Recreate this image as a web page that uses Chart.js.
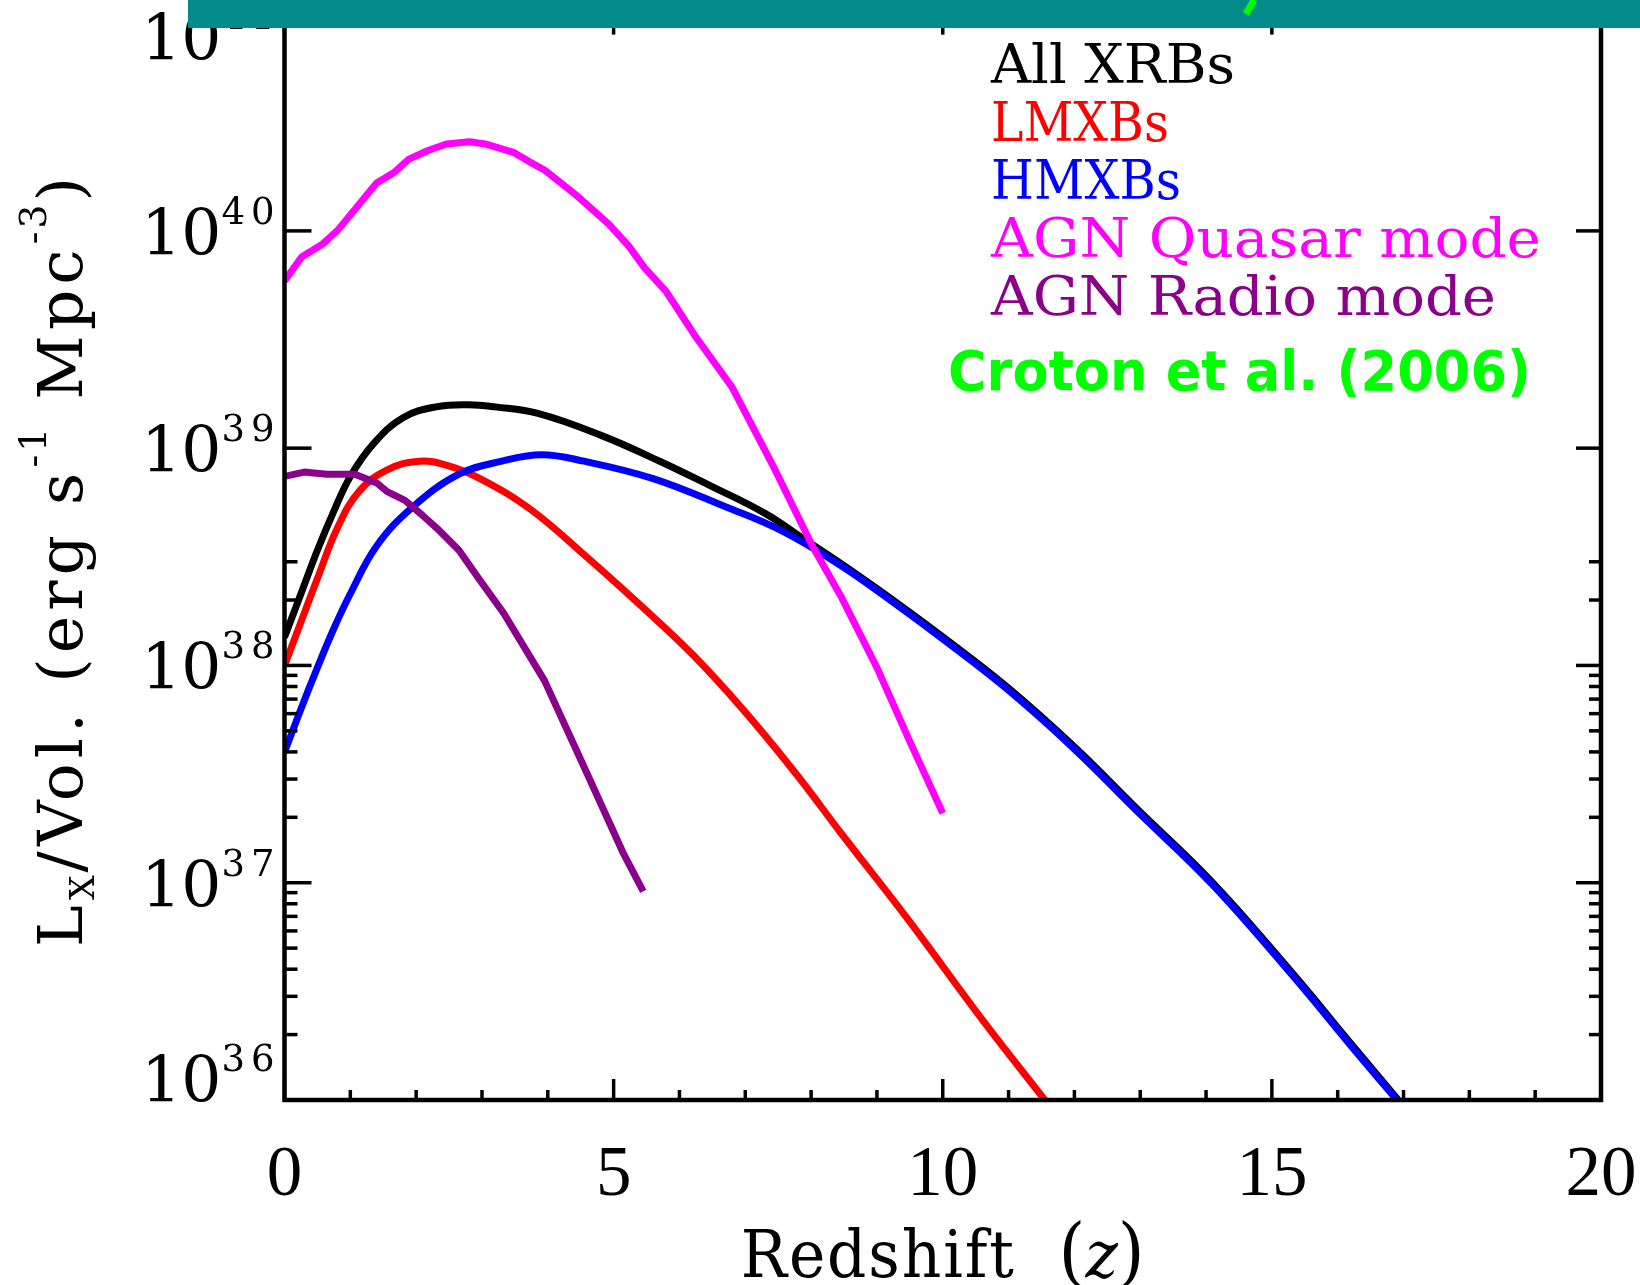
<!DOCTYPE html>
<html>
<head>
<meta charset="utf-8">
<script src="https://cdn.jsdelivr.net/npm/chart.js@4.4.1/dist/chart.umd.min.js"></script>
<style>
  html, body { margin: 0; padding: 0; background: #fff; }
  canvas { display: block; }
</style>
</head>
<body>
<canvas id="lxChart" width="1640" height="1285"></canvas>
<script>
// redshift and log10(Lx/Vol), one pair of arrays per curve
const allZ   = [0, 0.25, 0.5, 0.75, 1.0, 1.35, 1.8, 2.3, 2.8, 3.2, 3.85, 4.8, 5.7, 6.45, 7.3, 7.9, 8.45, 9.25, 10.05, 11.0, 12.0, 12.95, 14.1, 15.35, 16.2, 16.92];
const allLog = [38.13, 38.33, 38.53, 38.71, 38.87, 39.02, 39.14, 39.19, 39.20, 39.19, 39.16, 39.06, 38.94, 38.83, 38.70, 38.58, 38.47, 38.30, 38.12, 37.895, 37.625, 37.34, 37.0, 36.57, 36.26, 36.0];

const lmxbZ   = [0, 0.25, 0.5, 0.8, 1.13, 1.56, 2.05, 2.48, 2.97, 3.73, 4.55, 5.36, 6.2, 7.0, 7.8, 8.45, 9.5, 10.6, 11.55];
const lmxbLog = [38.0, 38.2, 38.4, 38.63, 38.8, 38.9, 38.94, 38.92, 38.86, 38.72, 38.51, 38.29, 38.05, 37.785, 37.49, 37.23, 36.82, 36.37, 36.0];

const hmxbZ   = [0, 0.25, 0.5, 0.75, 1.0, 1.4, 1.95, 2.65, 3.3, 3.9, 4.55, 5.6, 6.7, 7.55, 8.45, 9.25, 10.05, 11.0, 12.0, 12.95, 14.1, 15.35, 16.2, 16.9];
const hmxbLog = [37.60, 37.80, 37.99, 38.17, 38.33, 38.55, 38.73, 38.88, 38.94, 38.97, 38.94, 38.86, 38.73, 38.62, 38.46, 38.29, 38.11, 37.885, 37.615, 37.33, 36.99, 36.56, 36.25, 36.0];

const quasarZ   = [0, 0.26, 0.58, 0.8, 1.1, 1.4, 1.67, 1.89, 2.18, 2.46, 2.81, 3.05, 3.49, 3.71, 3.95, 4.41, 4.93, 5.23, 5.47, 5.8, 6.23, 6.8, 7.42, 8.02, 8.45, 9.0, 9.53, 10.0];
const quasarLog = [39.77, 39.88, 39.94, 40.00, 40.11, 40.22, 40.27, 40.33, 40.37, 40.40, 40.41, 40.40, 40.36, 40.32, 40.28, 40.17, 40.03, 39.93, 39.83, 39.72, 39.52, 39.28, 38.92, 38.55, 38.32, 37.99, 37.63, 37.32];

const radioZ   = [0, 0.3, 0.64, 1.07, 1.4, 1.56, 1.83, 2.1, 2.32, 2.65, 2.95, 3.33, 3.95, 4.6, 5.14, 5.45];
const radioLog = [38.87, 38.89, 38.88, 38.88, 38.84, 38.80, 38.76, 38.69, 38.63, 38.53, 38.40, 38.24, 37.93, 37.50, 37.14, 36.96];

// axis ticks
const xMajorTicks = [0, 5, 10, 15, 20];
const xMinorTicks = [1, 2, 3, 4, 6, 7, 8, 9, 11, 12, 13, 14, 16, 17, 18, 19];
const yDecades = [36, 37, 38, 39, 40, 41];
const yMinorTicks = [2e36, 3e36, 4e36, 5e36, 6e36, 7e36, 8e36, 9e36,
                     2e37, 3e37, 4e37, 5e37, 6e37, 7e37, 8e37, 9e37,
                     2e38, 3e38];

const legendOrder = ['All XRBs', 'LMXBs', 'HMXBs', 'AGN Quasar mode', 'AGN Radio mode'];
const sourceNote = 'Croton et al. (2006)';

function pts(zs, logs) {
  return zs.map((z, i) => ({ x: z, y: Math.pow(10, logs[i]) }));
}

// draws a run of text pieces (sub/superscripts), optionally squeezed to a width
function textRun(ctx, parts, x, y, align, width) {
  ctx.save();
  let total = 0;
  const ws = parts.map(p => {
    ctx.font = p.font;
    ctx.letterSpacing = (p.ls || 0) + 'px';
    const w = ctx.measureText(p.t).width;
    total += w;
    return w;
  });
  const sx = width ? width / total : 1;
  const tw = total * sx;
  const x0 = align === 'center' ? x - tw / 2 : align === 'right' ? x - tw : x;
  ctx.translate(x0, y);
  ctx.scale(sx, 1);
  ctx.textAlign = 'left';
  ctx.textBaseline = 'alphabetic';
  let cx = 0;
  parts.forEach((p, i) => {
    ctx.font = p.font;
    ctx.letterSpacing = (p.ls || 0) + 'px';
    ctx.fillStyle = p.color || '#000';
    ctx.fillText(p.t, cx, p.dy || 0);
    cx += ws[i];
  });
  ctx.restore();
}

const SERIF = '"DejaVu Serif", serif';

const framePlugin = {
  id: 'frame',
  afterDraw(chart) {
    const ctx = chart.ctx, a = chart.chartArea;
    const xs = chart.scales.x, ys = chart.scales.y;
    ctx.save();
    ctx.strokeStyle = '#000';
    ctx.lineCap = 'butt';
    const line = (x1, y1, x2, y2) => { ctx.beginPath(); ctx.moveTo(x1, y1); ctx.lineTo(x2, y2); ctx.stroke(); };

    ctx.lineWidth = 3.5;
    xMajorTicks.forEach(v => {
      const p = xs.getPixelForValue(v);
      line(p, a.bottom, p, a.bottom - 21);
      line(p, a.top, p, a.top + 21);
    });
    xMinorTicks.forEach(v => {
      const p = xs.getPixelForValue(v);
      line(p, a.bottom, p, a.bottom - 10);
      line(p, a.top, p, a.top + 10);
    });
    yDecades.forEach(d => {
      const p = ys.getPixelForValue(Math.pow(10, d));
      line(a.left, p, a.left + 27, p);
      line(a.right, p, a.right - 25, p);
    });
    yMinorTicks.forEach(v => {
      const p = ys.getPixelForValue(v);
      line(a.left, p, a.left + 13, p);
      line(a.right, p, a.right - 12, p);
    });
    ctx.lineWidth = 4.5;
    ctx.strokeRect(a.left, a.top, a.right - a.left, a.bottom - a.top);

    // y tick labels 10^n, end labels kept inside the box like IDL does
    yDecades.forEach(d => {
      const p = ys.getPixelForValue(Math.pow(10, d));
      const c = Math.min(Math.max(p, a.top + 22), a.bottom - 22);
      textRun(ctx, [
        { t: '10', font: '63px ' + SERIF },
        { t: String(d), font: '37px ' + SERIF, dy: -31, ls: 6 }
      ], a.left - 4, c + 24, 'right');
    });

    // x tick labels
    ctx.fillStyle = '#000';
    ctx.font = '71px "Liberation Serif", serif';
    ctx.textAlign = 'center';
    ctx.textBaseline = 'alphabetic';
    xMajorTicks.forEach(v => {
      ctx.fillText(String(v), xs.getPixelForValue(v), a.bottom + 95);
    });

    // x title
    textRun(ctx, [
      { t: 'Redshift  ', font: '66px ' + SERIF, ls: 2 },
      { t: '(', font: '74px ' + SERIF },
      { t: 'z', font: 'italic 66px ' + SERIF },
      { t: ')', font: '74px ' + SERIF }
    ], (a.left + a.right) / 2, a.bottom + 177, 'center', 404);

    // y title
    ctx.save();
    ctx.translate(82, 562);
    ctx.rotate(-Math.PI / 2);
    textRun(ctx, [
      { t: 'L', font: '62px ' + SERIF, ls: 5 },
      { t: 'X', font: '34px ' + SERIF, dy: 12, ls: 3 },
      { t: '/Vol. (erg s', font: '62px ' + SERIF, ls: 5 },
      { t: '-1', font: '37px ' + SERIF, dy: -36, ls: 3 },
      { t: ' Mpc', font: '62px ' + SERIF, ls: 5 },
      { t: '-3', font: '37px ' + SERIF, dy: -36, ls: 3 },
      { t: ')', font: '62px ' + SERIF }
    ], 0, 0, 'center', 770);
    ctx.restore();

    // legend, coloured text only
    const legendWidths = [244, 178, 190, 550, 505];
    legendOrder.forEach((name, i) => {
      const ds = chart.data.datasets.find(d => d.label === name);
      textRun(ctx, [{ t: name, font: '55px ' + SERIF, color: ds.borderColor }],
        991, 83 + i * 58, 'left', legendWidths[i]);
    });
    textRun(ctx, [{ t: sourceNote, font: 'bold 55px "DejaVu Sans", sans-serif', color: '#00ff00' }],
      948, 390, 'left', 583);

    // teal banner across the top (from the slide the figure was cut out of)
    ctx.fillStyle = '#038b8b';
    ctx.fillRect(188, 0, 1640 - 188, 28);
    ctx.strokeStyle = '#00ff00';
    ctx.lineWidth = 7;
    line(1246, 14, 1254, 0);
    ctx.restore();
  }
};

const lineStyle = { borderWidth: 7, pointRadius: 0, fill: false, borderJoinStyle: 'round', borderCapStyle: 'butt' };

new Chart(document.getElementById('lxChart'), {
  type: 'line',
  data: {
    // first listed is drawn on top
    datasets: [
      Object.assign({ label: 'AGN Radio mode', data: pts(radioZ, radioLog), borderColor: '#8b008b', tension: 0 }, lineStyle),
      Object.assign({ label: 'AGN Quasar mode', data: pts(quasarZ, quasarLog), borderColor: '#ff00ff', tension: 0 }, lineStyle),
      Object.assign({ label: 'HMXBs', data: pts(hmxbZ, hmxbLog), borderColor: '#0000ff', tension: 0.4 }, lineStyle),
      Object.assign({ label: 'LMXBs', data: pts(lmxbZ, lmxbLog), borderColor: '#ff0000', tension: 0.4 }, lineStyle),
      Object.assign({ label: 'All XRBs', data: pts(allZ, allLog), borderColor: '#000000', tension: 0.4 }, lineStyle)
    ]
  },
  options: {
    responsive: false,
    devicePixelRatio: 1,
    animation: false,
    layout: { padding: { left: 284.5, right: 39, top: 13.6, bottom: 185 } },
    plugins: { legend: { display: false }, tooltip: { enabled: false } },
    scales: {
      x: { type: 'linear', min: 0, max: 20, display: false },
      y: { type: 'logarithmic', min: 1e36, max: 1e41, display: false }
    }
  },
  plugins: [framePlugin]
});
</script>
</body>
</html>
